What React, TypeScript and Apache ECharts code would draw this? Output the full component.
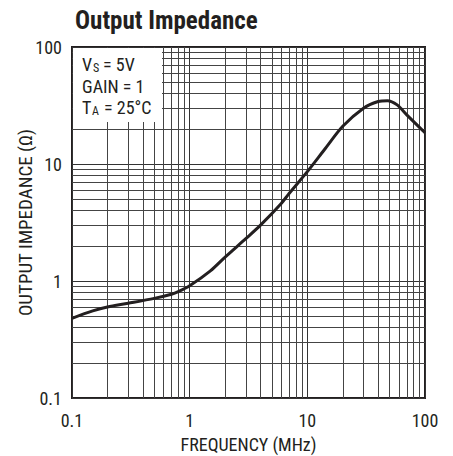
import React, { useEffect, useRef } from "react";
import * as echarts from "echarts";

const frequencyMHz = [0.1, 0.15, 0.2, 0.3, 0.5, 0.7, 0.8, 1, 1.5, 2, 3, 4, 6, 7, 10, 14, 20, 30, 40, 48, 58, 70, 100];
const impedanceOhm = [0.48, 0.555, 0.6, 0.645, 0.71, 0.77, 0.81, 0.91, 1.22, 1.6, 2.3, 3.0, 4.6, 5.6, 8.6, 13.3, 21, 30, 34.2, 34.8, 32, 26.3, 18.5];
const minorX = [0.2, 0.3, 0.4, 0.5, 0.6, 0.7, 0.8, 0.9, 2, 3, 4, 5, 6, 7, 8, 9, 20, 30, 40, 50, 60, 70, 80, 90];
const minorY = [0.2, 0.3, 0.4, 0.5, 0.6, 0.7, 0.8, 0.9, 2, 3, 4, 5, 6, 7, 8, 9, 20, 30, 40, 50, 60, 70, 80, 90];
const titleText = "Output Impedance";
const xName = "FREQUENCY (MHz)";
const yName = "OUTPUT IMPEDANCE (Ω)";

const FONT = "'Liberation Sans Narrow', 'Roboto Condensed', 'Liberation Sans', Arial, sans-serif";
const INK = "#231f20";

export default function App() {
  const ref = useRef<HTMLDivElement>(null);
  useEffect(() => {
    document.body.style.margin = "0";
    if (!ref.current) return;
    const chart = echarts.init(ref.current, null, { renderer: "svg" });
    const L = 72, T = 47, W = 353, H = 351;
    chart.setOption({
      animation: false,
      backgroundColor: "#fff",
      title: {
        text: titleText,
        left: 70,
        top: 3,
        textStyle: { fontFamily: FONT, fontWeight: "bold", fontSize: 25, color: INK },
      },
      grid: {
        left: L, top: T, width: W, height: H,
        outerBoundsMode: "none", containLabel: false,
        show: true, borderColor: INK, borderWidth: 2, backgroundColor: "transparent",
      },
      xAxis: {
        type: "log", logBase: 10, min: 0.1, max: 100,
        name: xName, nameLocation: "middle", nameGap: 37, nameMoveOverlap: false,
        nameTextStyle: { fontFamily: FONT, fontSize: 18, color: INK },
        axisLine: { show: false },
        axisTick: { show: false },
        axisLabel: { fontFamily: FONT, fontSize: 18, color: INK, margin: 13,
          formatter: (v: number) => String(v) },
        splitLine: { show: true, lineStyle: { color: "#333", width: 1 } },
      },
      yAxis: {
        type: "log", logBase: 10, min: 0.1, max: 100,
        name: yName, nameLocation: "middle", nameGap: 37, nameMoveOverlap: false,
        nameTextStyle: { fontFamily: FONT, fontSize: 19, color: INK },
        axisLine: { show: false },
        axisTick: { show: false },
        axisLabel: { fontFamily: FONT, fontSize: 18, color: INK, margin: 10,
          formatter: (v: number) => String(v) },
        splitLine: { show: true, lineStyle: { color: "#333", width: 1 } },
      },
      series: [
        {
          type: "line",
          data: [[0.1, 0.1]],
          symbol: "none",
          lineStyle: { width: 0 },
          silent: true,
          z: 1,
          markLine: {
            silent: true,
            symbol: "none",
            label: { show: false },
            lineStyle: { type: "solid", color: "#444", width: 1 },
            emphasis: { disabled: true },
            data: [
              ...minorX.map((v) => ({ xAxis: v })),
              ...minorY.map((v) => ({ yAxis: v })),
            ],
          },
        },
        {
          type: "line",
          data: frequencyMHz.map((f, i) => [f, impedanceOhm[i]]),
          smooth: 0.3,
          symbol: "none",
          lineStyle: { color: INK, width: 3 },
          z: 5,
        },
      ],
      graphic: [
        { type: "rect", shape: { x: L + 1, y: T + 1, width: 89, height: 74 }, style: { fill: "#fff" }, z: 10 },
        { type: "text", x: 82, y: 64, style: { text: "V", fontFamily: FONT, fontSize: 18, fill: INK, verticalAlign: "middle" }, z: 11 },
        { type: "text", x: 93, y: 68, style: { text: "S", fontFamily: FONT, fontSize: 12, fill: INK, verticalAlign: "middle" }, z: 11 },
        { type: "text", x: 103, y: 64, style: { text: "= 5V", fontFamily: FONT, fontSize: 18, fill: INK, verticalAlign: "middle" }, z: 11 },
        { type: "text", x: 82, y: 86, style: { text: "GAIN = 1", fontFamily: FONT, fontSize: 18, fill: INK, verticalAlign: "middle" }, z: 11 },
        { type: "text", x: 82, y: 107, style: { text: "T", fontFamily: FONT, fontSize: 18, fill: INK, verticalAlign: "middle" }, z: 11 },
        { type: "text", x: 92, y: 111, style: { text: "A", fontFamily: FONT, fontSize: 12, fill: INK, verticalAlign: "middle" }, z: 11 },
        { type: "text", x: 104, y: 107, style: { text: "= 25°C", fontFamily: FONT, fontSize: 18, fill: INK, verticalAlign: "middle" }, z: 11 },
      ],
    });
    return () => chart.dispose();
  }, []);
  return <div ref={ref} style={{ width: 453, height: 456 }} />;
}
